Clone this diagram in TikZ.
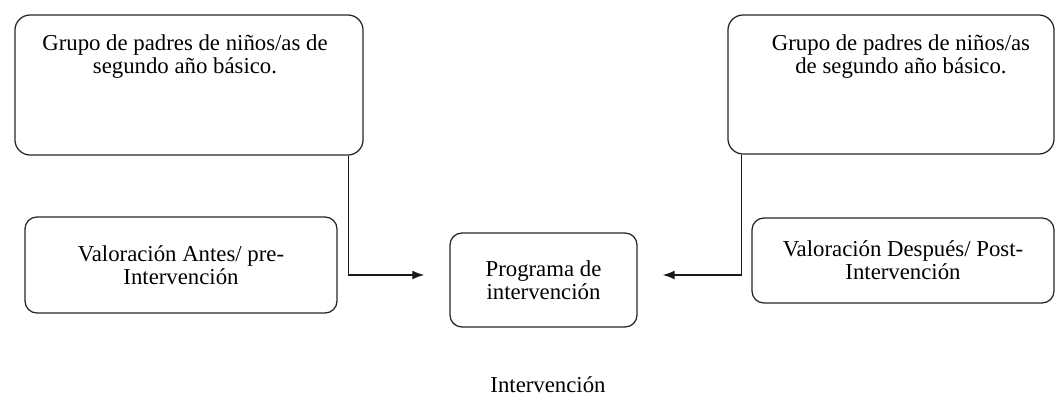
\documentclass[tikz,border=0pt]{standalone}
\usepackage{fontspec}
\setmainfont{Liberation Serif}
\usetikzlibrary{arrows.meta,positioning}

\begin{document}
\begin{tikzpicture}[x = 0.025cm, y = -0.025cm,
	caja/.style = {draw = black!85, line width = 0.9pt, rounded corners = 0.3cm, inner sep = 0pt},
	texto/.style = {align = center, font = \fontsize{16.2}{16.4}\selectfont, inner sep = 0pt},
	flecha/.style = {draw = black!90, line width = 0.9pt, -{Latex[length = 0.3cm, width = 0.22cm]}}]
	\useasboundingbox (0,0) rectangle (1055,398);
	
	\node[caja, rounded corners = 0.38cm, minimum width = 8.7cm, minimum height = 3.5cm] (grpL) at (189,85) {};
	\node[texto, below = 0.5cm of grpL.north, xshift = -0.1cm] (grpLtxt) {Grupo de padres de niños/as de\\segundo año básico.};
	\node[caja, rounded corners = 0.38cm, minimum width = 8.15cm, minimum height = 3.475cm] (grpR) at (891,84.5) {};
	\node[texto, below = 0.5cm of grpR.north, xshift = 0.25cm] (grpRtxt) {Grupo de padres de niños/as\\de segundo año básico.};
	
	\node[caja, texto, minimum width = 7.8cm, minimum height = 2.4cm] (antes) at (181,265) {Valoración Antes/ pre-\\Intervención};
	\node[caja, texto, minimum width = 7.55cm, minimum height = 2.125cm] (despues) at (903,260.5) {Valoración Después/ Post-\\Intervención};
	\node[caja, texto, minimum width = 4.675cm, minimum height = 2.35cm] (prog) at (543.5,280) {Programa de\\intervención};
	
	\node[texto] (interv) at (548,385) {Intervención};
	
	\draw[flecha] ([xshift = -0.375cm]grpL.south east) |- ([xshift = -0.625cm, yshift = 0.125cm]prog.west);
	\draw[flecha] ([xshift = 0.35cm]grpR.south west) |- ([xshift = 0.625cm, yshift = 0.125cm]prog.east);
\end{tikzpicture}
\end{document}
